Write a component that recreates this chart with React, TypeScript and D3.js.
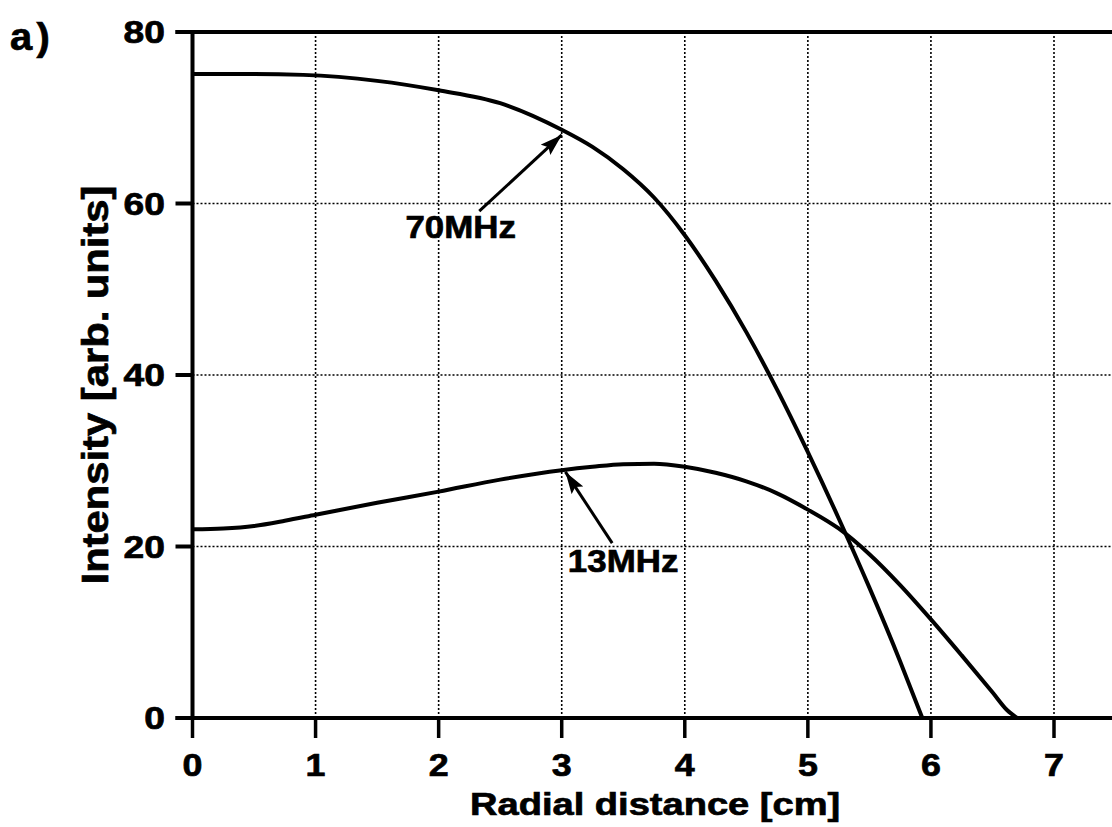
import React from "react";
import * as d3 from "d3";

const radius70 = [0, 0.5, 0.9, 1.5, 2, 2.5, 3, 3.25, 3.5, 3.75, 4, 4.25, 4.5, 4.75, 5, 5.25, 5.5, 5.75, 5.93];
const intensity70 = [75.1, 75.1, 75.0, 74.3, 73.2, 71.7, 68.6, 66.6, 64.0, 60.7, 56.3, 51.0, 45.0, 38.3, 31.0, 23.3, 15.2, 6.6, 0];

const radius13 = [0, 0.25, 0.5, 0.75, 1, 1.5, 2, 2.5, 3, 3.25, 3.5, 3.75, 4, 4.25, 4.5, 4.75, 5, 5.25, 5.5, 5.75, 6, 6.25, 6.5, 6.62, 6.7];
const intensity13 = [22.0, 22.1, 22.4, 23.0, 23.7, 25.1, 26.4, 27.8, 28.9, 29.3, 29.6, 29.65, 29.3, 28.6, 27.6, 26.2, 24.3, 22.1, 19.1, 15.5, 11.5, 7.3, 3.0, 0.9, 0];

const xTicks = [0, 1, 2, 3, 4, 5, 6, 7];
const yTicks = [0, 20, 40, 60, 80];

const annotationLabels = ["70MHz", "13MHz"];
const annotationTipX = [3.0, 3.03];
const annotationTipY = [68.0, 28.7];
const annotationTailX = [2.33, 3.41];
const annotationTailY = [59.1, 20.4];
const annotationTextX = [1.73, 3.05];
const annotationTextY = [56.0, 17.0];

const W = 1112;
const H = 827;
const FONT = "'Liberation Sans', Arial, Helvetica, sans-serif";

function BoldText(props: {
  x: number;
  y: number;
  size: number;
  sx?: number;
  rotate?: number;
  anchor?: "start" | "middle" | "end";
  spacing?: number;
  children: React.ReactNode;
}) {
  const { x, y, size, sx = 1, rotate = 0, anchor = "start", spacing = 0, children } = props;
  return (
    <text
      transform={`translate(${x},${y}) rotate(${rotate}) scale(${sx},1)`}
      fontSize={size}
      textAnchor={anchor}
      letterSpacing={spacing}
      fill="#000"
      stroke="#000"
      strokeWidth={0.7}
    >
      {children}
    </text>
  );
}

export default function App() {
  const x = d3.scaleLinear().domain([0, 7]).range([192.5, 1054]);
  const y = d3.scaleLinear().domain([0, 80]).range([718, 32]);
  const xMax = x.invert(W);

  const line = d3
    .line<[number, number]>()
    .x((d) => x(d[0]))
    .y((d) => y(d[1]))
    .curve(d3.curveMonotoneX);

  const s70 = radius70.map((r, i) => [r, intensity70[i]] as [number, number]);
  const s13 = radius13.map((r, i) => [r, intensity13[i]] as [number, number]);

  const axisW = 4;
  const gridStyle = { stroke: "#000", strokeWidth: 1.6, strokeDasharray: "2 2" };

  return (
    <svg
      width={W}
      height={H}
      style={{ position: "absolute", left: 0, top: 0, background: "#fff" }}
      fontFamily={FONT}
      fontWeight="bold"
    >
      <defs>
        <marker
          id="arrowhead"
          markerUnits="userSpaceOnUse"
          markerWidth="24"
          markerHeight="14"
          refX="22"
          refY="7"
          orient="auto"
        >
          <path d="M0,0 L22,7 L0,14 L4,7 Z" fill="#000" />
        </marker>
      </defs>
      <rect x={0} y={0} width={W} height={H} fill="#fff" />

      {/* grid */}
      {xTicks
        .filter((t) => t > 0)
        .map((t) => (
          <line key={"gx" + t} x1={x(t)} x2={x(t)} y1={y(80)} y2={y(0)} {...gridStyle} />
        ))}
      {yTicks
        .filter((t) => t > 0 && t < 80)
        .map((t) => (
          <line key={"gy" + t} x1={x(0)} x2={x(xMax)} y1={y(t)} y2={y(t)} {...gridStyle} />
        ))}

      {/* axes */}
      <line x1={x(0)} x2={x(0)} y1={y(80) - 2} y2={y(0) + 2} stroke="#000" strokeWidth={axisW} />
      <line x1={x(0) - 17} x2={x(xMax)} y1={y(0)} y2={y(0)} stroke="#000" strokeWidth={axisW} />
      <line x1={x(0) - 17} x2={x(xMax)} y1={y(80)} y2={y(80)} stroke="#000" strokeWidth={axisW} />

      {yTicks.map((t) => (
        <g key={"yt" + t}>
          <line x1={x(0) - 17} x2={x(0)} y1={y(t)} y2={y(t)} stroke="#000" strokeWidth={axisW} />
          <BoldText x={165} y={y(t) + 11} size={31} sx={1.2} anchor="end">
            {t}
          </BoldText>
        </g>
      ))}

      {xTicks.map((t) => (
        <g key={"xt" + t}>
          <line x1={x(t)} x2={x(t)} y1={y(0)} y2={y(0) + 20} stroke="#000" strokeWidth={3.5} />
          <BoldText x={x(t)} y={776} size={32} sx={1.12} anchor="middle">
            {t}
          </BoldText>
        </g>
      ))}

      {/* curves */}
      <path d={line(s70) || ""} fill="none" stroke="#000" strokeWidth={4} strokeLinejoin="round" />
      <path d={line(s13) || ""} fill="none" stroke="#000" strokeWidth={4} strokeLinejoin="round" />

      {/* annotations */}
      {annotationLabels.map((lab, i) => (
        <g key={"ann" + i}>
          <line
            x1={x(annotationTailX[i])}
            y1={y(annotationTailY[i])}
            x2={x(annotationTipX[i])}
            y2={y(annotationTipY[i])}
            stroke="#000"
            strokeWidth={3}
            markerEnd="url(#arrowhead)"
          />
          <BoldText x={x(annotationTextX[i])} y={y(annotationTextY[i])} size={32} sx={1.09}>
            {lab}
          </BoldText>
        </g>
      ))}

      {/* titles */}
      <BoldText x={470} y={815} size={32} sx={1.19}>
        Radial distance [cm]
      </BoldText>
      <BoldText x={108} y={385} size={36} sx={1.16} rotate={-90} anchor="middle">
        Intensity [arb. units]
      </BoldText>
      <BoldText x={10} y={50} size={38} sx={1.05} spacing={4}>
        a)
      </BoldText>
    </svg>
  );
}
